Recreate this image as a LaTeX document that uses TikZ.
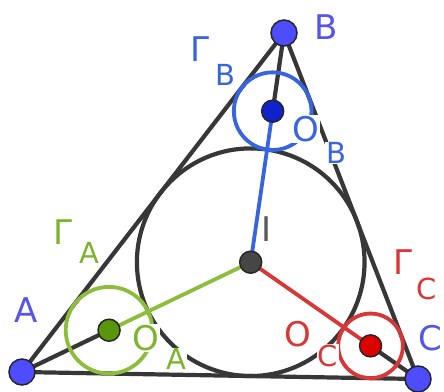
\documentclass[tikz,border=0pt]{standalone}
\usepackage{fontspec}
\setmainfont{DejaVu Sans}
\definecolor{lgray}{RGB}{55,55,55}
\definecolor{vblue}{RGB}{77,77,255}
\definecolor{vlabel}{RGB}{85,85,235}
\definecolor{bline}{RGB}{55,100,225}
\definecolor{bdark}{RGB}{15,35,205}
\definecolor{gline}{RGB}{140,190,60}
\definecolor{gdark}{RGB}{90,150,10}
\definecolor{gtext}{RGB}{125,180,45}
\definecolor{rline}{RGB}{215,55,55}
\definecolor{rdark}{RGB}{220,0,0}
\definecolor{idot}{RGB}{70,70,70}
\tikzset{
  side/.style={draw=lgray, line width=4.2pt, line cap=round},
  seg/.style={line width=3.8pt, line cap=round},
  vdot/.style={circle, fill=vblue, draw=black!85, line width=1.5pt, minimum size=26pt, inner sep=0pt},
  cdot/.style={circle, draw=black!85, line width=1.5pt, minimum size=22pt, inner sep=0pt},
  big/.style={font=\fontsize{34}{34}\selectfont, inner sep=0.8pt, fill=white},
  small/.style={font=\fontsize{29}{29}\selectfont, inner sep=0.8pt, fill=white}
}
\begin{document}
\begin{tikzpicture}[x=1pt,y=-1pt]
\useasboundingbox[fill=white] (0,0) rectangle (444,391);
% points
\coordinate (pA) at (22,372);
\coordinate (pB) at (284,33);
\coordinate (pC) at (418,379);
\coordinate (pI) at (250.71,262.21);
\coordinate (pOA) at (109.05,330.21);
\coordinate (pOB) at (272.65,111.16);
\coordinate (pOC) at (370.53,345.86);
% triangle
\draw[side] (pA) -- (pB) -- (pC) -- cycle;
\draw[side] (pA) -- (pOA);
\draw[side] (pB) -- (pOB);
\draw[side] (pC) -- (pOC);
% incircle
\draw[draw=lgray, line width=4.2pt] (pI) circle[radius=113.82pt];
% small circles
\draw[draw=gline, line width=3.8pt] (pOA) circle[radius=43.32pt];
\draw[draw=bline, line width=3.8pt] (pOB) circle[radius=38.81pt];
\draw[draw=rline, line width=3.8pt] (pOC) circle[radius=32.30pt];
% colored segments
\draw[seg, draw=gline] (pOA) -- (pI);
\draw[seg, draw=bline] (pOB) -- (pI);
\draw[seg, draw=rline] (pOC) -- (pI);
% labels
\node[big, text=vlabel] (lA) at (26,310) {A};
\node[big, text=vlabel] (lB) at (326,27) {B};
\node[big, text=vlabel] (lC) at (430,338) {C};
\node[big, text=black!65] (lI) at (267,229) {I};
\node[big, text=gtext] (lGA) at (63,232) {Γ};
\node[small, text=gtext] (lGAs) at (89,253) {A};
\node[big, text=bline] (lGB) at (200,49) {Γ};
\node[small, text=bline] (lGBs) at (225,75) {B};
\node[big, text=rline] (lGC) at (403,262) {Γ};
\node[small, text=rline] (lGCs) at (427,289) {C};
\node[big, text=bline] (lOB) at (306,129) {O};
\node[small, text=bline] (lOBs) at (336,153) {B};
\node[big, text=gtext] (lOA) at (146,338) {O};
\node[small, text=gtext] (lOAs) at (176,359) {A};
\node[big, text=rline] (lOC) at (298,334) {O};
\node[small, text=rline] (lOCs) at (328,356) {C};
% dots
\node[cdot, fill=gdark] (OA) at (pOA) {};
\node[cdot, fill=bdark] (OB) at (pOB) {};
\node[cdot, fill=rdark] (OC) at (pOC) {};
\node[cdot, fill=idot] (I) at (pI) {};
\node[vdot] (A) at (pA) {};
\node[vdot] (B) at (pB) {};
\node[vdot] (C) at (pC) {};
\end{tikzpicture}
\end{document}
